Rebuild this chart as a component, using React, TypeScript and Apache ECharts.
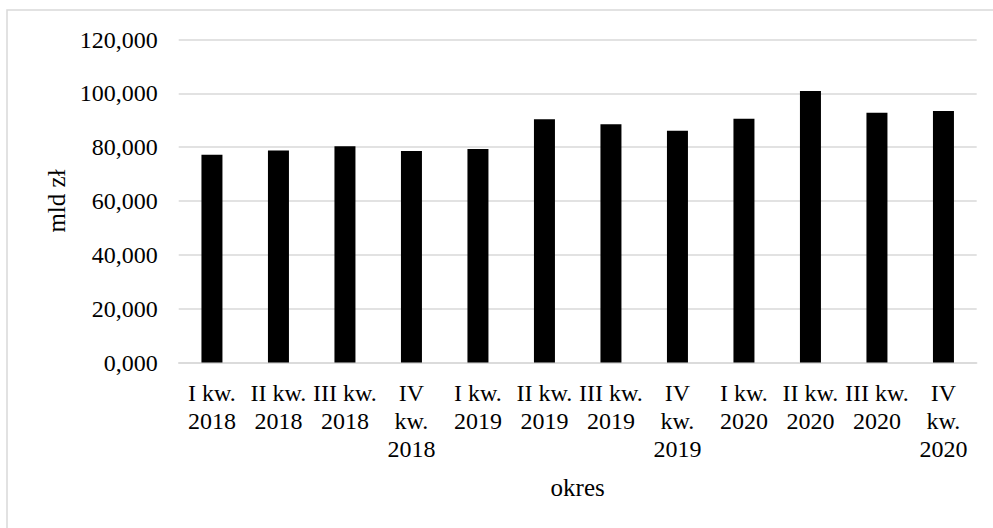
import React, { useEffect, useRef } from "react";
import * as echarts from "echarts";

const categories = [
  "I kw.\n2018",
  "II kw.\n2018",
  "III kw.\n2018",
  "IV\nkw.\n2018",
  "I kw.\n2019",
  "II kw.\n2019",
  "III kw.\n2019",
  "IV\nkw.\n2019",
  "I kw.\n2020",
  "II kw.\n2020",
  "III kw.\n2020",
  "IV\nkw.\n2020",
];
const values = [77.2, 78.8, 80.3, 78.6, 79.3, 90.4, 88.5, 86.1, 90.6, 100.9, 92.8, 93.4];
const yAxisName = "mld zł";
const xAxisName = "okres";

const FONT = "'Liberation Serif', 'Times New Roman', serif";

export default function App() {
  const ref = useRef<HTMLDivElement>(null);
  useEffect(() => {
    document.body.style.margin = "0";
    const chart = echarts.init(ref.current!, null, { renderer: "svg" });
    chart.setOption({
      animation: false,
      backgroundColor: "#ffffff",
      textStyle: { fontFamily: FONT, color: "#000" },
      graphic: [
        {
          type: "rect",
          shape: { x: 7, y: 10, width: 1000, height: 540 },
          style: { fill: "none", stroke: "#d9d9d9", lineWidth: 1.5 },
          silent: true,
        },
      ],
      grid: { left: 178.7, right: 16.3, top: 39.5, bottom: 165.5, containLabel: false },
      xAxis: {
        type: "category",
        data: categories,
        name: xAxisName,
        nameLocation: "middle",
        nameGap: 112,
        nameTextStyle: { fontFamily: FONT, fontSize: 25, color: "#000" },
        axisLine: { lineStyle: { color: "#d9d9d9", width: 1.5 } },
        axisTick: { show: false },
        axisLabel: {
          interval: 0,
          fontFamily: FONT,
          fontSize: 24,
          lineHeight: 28,
          color: "#000",
          margin: 16,
        },
      },
      yAxis: {
        type: "value",
        min: 0,
        max: 120,
        interval: 20,
        name: yAxisName,
        nameLocation: "middle",
        nameRotate: 90,
        nameGap: 108,
        nameTextStyle: { fontFamily: FONT, fontSize: 25, color: "#000" },
        axisLine: { show: false },
        axisTick: { show: false },
        splitLine: { lineStyle: { color: "#d9d9d9", width: 1.5 } },
        axisLabel: {
          fontFamily: FONT,
          fontSize: 24,
          color: "#000",
          margin: 21,
          formatter: (v: number) => v.toFixed(3).replace(".", ","),
        },
      },
      series: [
        {
          type: "bar",
          data: values,
          barWidth: 21,
          itemStyle: { color: "#000" },
        },
      ],
    });
    return () => chart.dispose();
  }, []);
  return (
    <div
      ref={ref}
      style={{ position: "absolute", left: 0, top: 0, width: 993, height: 528 }}
    />
  );
}
